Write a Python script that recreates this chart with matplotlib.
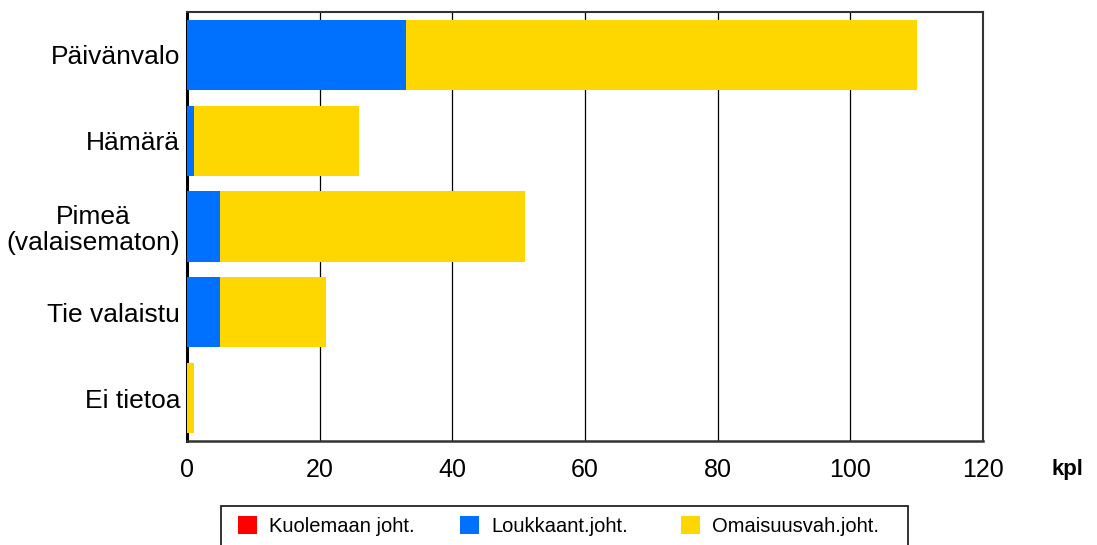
import matplotlib.pyplot as plt
from matplotlib.patches import Patch, Rectangle

plt.rcParams['font.family'] = ['Liberation Sans', 'DejaVu Sans']

categories = ['Päivänvalo', 'Hämärä', 'Pimeä\n(valaisematon)', 'Tie valaistu', 'Ei tietoa']
kuolemaan = [0, 0, 0, 0, 0]
loukkaant = [33, 1, 5, 5, 0]
omaisuus = [77, 25, 46, 16, 1]
series_names = ['Kuolemaan joht.', 'Loukkaant.joht.', 'Omaisuusvah.joht.']
colors = ['#FF0000', '#0070FF', '#FFD700']

fig = plt.figure(figsize=(10.97, 5.45), dpi=100)
ax = fig.add_axes([187/1097, 1-441/545, (983-187)/1097, (441-12)/545])

y = list(range(len(categories)))
h = 0.82
ax.barh(y, kuolemaan, height=h, color=colors[0], zorder=3)
ax.barh(y, loukkaant, left=kuolemaan, height=h, color=colors[1], zorder=3)
left2 = [a + b for a, b in zip(kuolemaan, loukkaant)]
ax.barh(y, omaisuus, left=left2, height=h, color=colors[2], zorder=3)

ax.set_xlim(0, 120)
ax.set_ylim(len(categories) - 0.5, -0.5)
ax.set_xticks(range(0, 121, 20))
ax.set_yticks(y)
ax.set_yticklabels(categories, fontsize=19, multialignment='center', linespacing=1.12)
ax.tick_params(axis='x', length=0, pad=12, labelsize=18)
ax.tick_params(axis='y', length=0, pad=5)
ax.xaxis.grid(True, color='black', linewidth=0.9, zorder=0)
ax.set_axisbelow(True)

ax.spines['left'].set_linewidth(2.2)
ax.spines['left'].set_color('black')
ax.spines['bottom'].set_linewidth(1.8)
ax.spines['bottom'].set_color('#333333')
for s in ['top', 'right']:
    ax.spines[s].set_linewidth(1.5)
    ax.spines[s].set_color('#333333')

fig.text(1067/1097, 1-469/545, 'kpl', fontsize=16, fontweight='bold', ha='center', va='center')

# legend box
fig.patches.append(Rectangle((221/1097, -0.05), (908-221)/1097, 0.05 + (545-506)/545,
                             transform=fig.transFigure, facecolor='white',
                             edgecolor='#222222', linewidth=1.3))
for name, c, x0 in zip(series_names, colors, [238, 460, 681]):
    fig.legend(handles=[Patch(facecolor=c, edgecolor='none')], labels=[name],
               loc='center left', bbox_to_anchor=(x0/1097, 1-526/545),
               frameon=False, fontsize=14.5, handlelength=0.95, handleheight=0.95,
               handletextpad=0.6, borderpad=0, borderaxespad=0)

fig.savefig('out.png', dpi=100)
